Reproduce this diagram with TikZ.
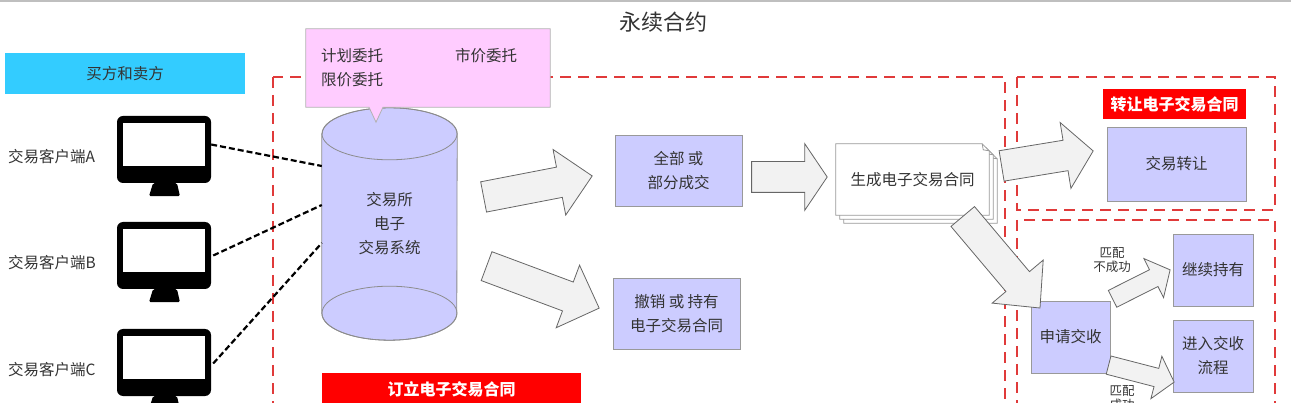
\documentclass[tikz,border=0pt]{standalone}
\usepackage{fontspec}
\setmainfont{Noto Sans CJK SC}
\usetikzlibrary{positioning,calc,shapes.arrows,backgrounds}
\definecolor{lavender}{HTML}{CCCCFF}
\definecolor{pinkbox}{HTML}{FFCCFF}
\definecolor{skyblue}{HTML}{33CCFF}
\definecolor{zonered}{HTML}{E03A3A}
\definecolor{ink}{HTML}{333333}
\definecolor{edge}{HTML}{999999}
\tikzstyle{txt}=[text=ink,inner sep=0pt,align=center,font=\fontsize{15.5}{24}\selectfont]
\tikzstyle{proc}=[txt,draw=edge,fill=lavender]
\tikzstyle{small}=[txt,font=\fontsize{12.5}{14}\selectfont]
\tikzstyle{tag}=[fill=red,text=white,inner sep=0pt,font=\bfseries\fontsize{16}{20}\selectfont]
\tikzstyle{zone}=[draw=zonered,line width=2pt,dash pattern=on 11pt off 7pt]
\tikzstyle{link}=[line width=2.2pt,dash pattern=on 6pt off 3pt]
\tikzstyle{monbody}=[fill=black,rounded corners=6pt,minimum width=94pt,minimum height=67pt,inner sep=0pt]
\tikzstyle{sheet}=[draw=edge,fill=white,line width=0.8pt]
\tikzstyle{cyl}=[draw=black!45,fill=lavender,line width=0.8pt]
\tikzstyle{note}=[draw=black!30,fill=pinkbox,line width=0.8pt]
\tikzstyle{fat}=[single arrow,draw=black!60,fill=black!5,line width=0.8pt,inner xsep=0pt,inner ysep=15pt,single arrow head extend=18pt,anchor=tail]
\tikzstyle{slim}=[fat,inner ysep=9pt,single arrow head extend=12.5pt]
\newcommand\fatarrow[3][]{%
  \path let \p1=($(#3)-(#2)$) in
    node[fat,#1,minimum height={veclen(\x1,\y1)},rotate={atan2(\y1,\x1)}] at (#2) {};
}

\begin{document}
\begin{tikzpicture}[x=1pt,y=-1pt]
\useasboundingbox (0,0) rectangle (1291,403);
\draw[black!25,line width=2pt] (0,1) -- (1291,1);
\node[txt,font=\fontsize{22}{26}\selectfont] (title) at (663,22) {永续合约};

\draw[zone] (273,77) rectangle (1005,430);
\draw[zone] (1017,77) rectangle (1275,210);
\draw[zone] (1017,220) rectangle (1275,430);

\node[txt,fill=skyblue,minimum width=240pt,minimum height=41pt] (side) at (125,73.5) {买方和卖方};
\foreach \m/\y in {A/149.5,B/255.5,C/362.5}{
  \node[monbody] (mon\m) at (164,\y) {};
  \fill[white] ([shift={(6,7)}]mon\m.north west) rectangle ([shift={(-6,-17)}]mon\m.south east);
  \fill[rounded corners=1.5pt] ([shift={(-11,0)}]mon\m.south) -- ([shift={(13,0)}]mon\m.south) -- ([shift={(16,13)}]mon\m.south) -- ([shift={(-15,13)}]mon\m.south) -- cycle;
  \node[txt,anchor=west] (lab\m) at (8,\y+7.5) {交易客户端\m};
}

\node[txt,minimum width=135pt,minimum height=232pt] (sys) at (389.5,224) {交易所\\电子\\交易系统};
\begin{scope}[on background layer]
\draw[cyl] ([shift={(0,26)}]sys.north west) -- ([shift={(0,-27)}]sys.south west)
  arc[start angle=180,end angle=360,x radius=67.5pt,y radius=27pt]
  -- ([shift={(0,26)}]sys.north east)
  arc[start angle=0,end angle=180,x radius=67.5pt,y radius=26pt] -- cycle;
\draw[cyl,fill=none] ([shift={(0,26)}]sys.north) ellipse[x radius=67.5pt,y radius=26pt];
\draw[cyl,fill=none] ([shift={(0,-27)}]sys.south) ellipse[x radius=67.5pt,y radius=27pt];
\end{scope}
\draw[link] ([shift={(0,-5)}]monA.east) -- ([shift={(0,-58)}]sys.west);
\draw[link] ([shift={(2,0)}]monB.east) -- ([shift={(0,-19)}]sys.west);
\draw[link] ([shift={(2,1)}]monC.east) -- ([shift={(0,19)}]sys.west);

\path node[minimum width=244pt,minimum height=78pt] (ord) at (428,68) {};
\draw[note] (ord.north west) -- (ord.north east) -- (ord.south east) -- ([shift={(-45,0)}]ord.south)
  -- ([shift={(-52,15)}]ord.south) -- ([shift={(-59,0)}]ord.south) -- (ord.south west) -- cycle;
\node[txt,anchor=west] (plan) at ([shift={(15,27)}]ord.north west) {计划委托};
\node[txt,anchor=west] (market) at ([shift={(149,27)}]ord.north west) {市价委托};
\node[txt,anchor=west] (limit) at ([shift={(15,51)}]ord.north west) {限价委托};

\node[proc,minimum width=127pt,minimum height=71pt] (full) at (678.5,170.5) {全部 或\\部分成交};
\node[proc,minimum width=127pt,minimum height=71pt] (cancel) at (676.5,313.5) {撤销 或 持有\\电子交易合同};
\node[txt,minimum width=153pt,minimum height=71pt] (gen) at (912.5,179.5) {生成电子交易合同};
\begin{scope}[on background layer]
\foreach \d in {8,4,0}{
  \draw[sheet] ([shift={(\d,\d)}]gen.north west) -- ([shift={(\d-7,\d)}]gen.north east)
    -- ([shift={(\d,\d+7)}]gen.north east) -- ([shift={(\d,\d)}]gen.south east)
    -- ([shift={(\d,\d)}]gen.south west) -- cycle;
  \draw[sheet,fill=none] ([shift={(\d-7,\d)}]gen.north east) -- ([shift={(\d-6,\d+6)}]gen.north east) -- ([shift={(\d,\d+7)}]gen.north east);
}
\end{scope}
\node[tag,minimum width=143pt,minimum height=30pt] (xfertag) at (1174.5,104) {转让电子交易合同};
\node[proc,minimum width=139pt,minimum height=74pt] (xfer) at (1176.5,164) {交易转让};
\node[proc,minimum width=79pt,minimum height=72pt] (apply) at (1070.5,337) {申请交收};
\node[proc,minimum width=80pt,minimum height=72pt] (hold) at (1213,270) {继续持有};
\node[proc,minimum width=80pt,minimum height=72pt] (settle) at (1213,356) {进入交收\\流程};
\node[small] (fail) at (1112,260) {匹配\\不成功};
\node[small] (ok) at (1122,398) {匹配\\成功};
\node[tag,minimum width=259pt,minimum height=32pt] (signtag) at (451.5,389) {订立电子交易合同};

\coordinate (a1s) at ([shift={(26,-27)}]sys.east);
\coordinate (a1e) at ([shift={(-23,5.5)}]full.west);
\coordinate (a2s) at ([shift={(29,42)}]sys.east);
\coordinate (a2e) at ([shift={(-14,-5.5)}]cancel.west);
\coordinate (a3s) at ([shift={(9,6.5)}]full.east);
\coordinate (a3e) at ([shift={(-9,-2.5)}]gen.west);
\coordinate (a4s) at ([shift={(12,-13.5)}]gen.east);
\coordinate (a4e) at ([shift={(-14,-13)}]xfer.west);
\coordinate (a5s) at ([shift={(50,1)}]gen.south);
\coordinate (a5e) at ([shift={(9,7)}]apply.north west);
\coordinate (a6s) at ([shift={(2,-38)}]apply.east);
\coordinate (a6e) at ([shift={(-3,0)}]hold.west);
\coordinate (a7s) at ([shift={(-2,28)}]apply.east);
\coordinate (a7e) at ([shift={(1,26)}]settle.west);
\fatarrow[single arrow tip angle=90]{a1s}{a1e}
\fatarrow[single arrow tip angle=90]{a2s}{a2e}
\fatarrow[single arrow tip angle=112]{a3s}{a3e}
\fatarrow[single arrow tip angle=100]{a4s}{a4e}
\fatarrow[single arrow tip angle=88]{a5s}{a5e}
\fatarrow[slim,single arrow tip angle=100]{a6s}{a6e}
\fatarrow[slim,single arrow tip angle=100]{a7s}{a7e}
\end{tikzpicture}
\end{document}
